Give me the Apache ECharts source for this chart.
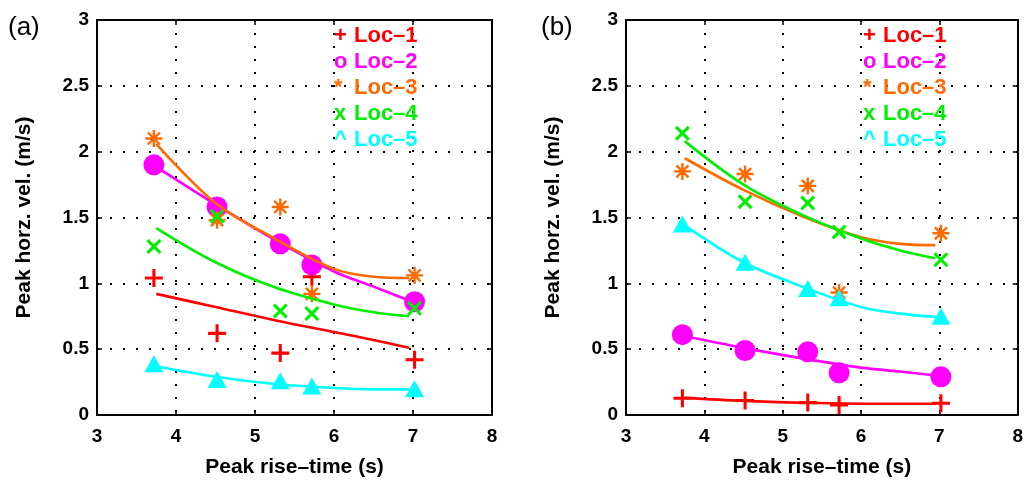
<!DOCTYPE html>
<html>
<head>
<meta charset="utf-8">
<script src="https://cdn.jsdelivr.net/npm/echarts@6/dist/echarts.min.js"></script>
<style>
html,body{margin:0;padding:0;background:#fff;}
#chart{width:1026px;height:484px;}
</style>
</head>
<body>
<div id="chart"></div>
<script>
// ---- data ----
const xRise = [3.72, 4.52, 5.32, 5.72, 7.02];
const xFit = [3.75, 4.5, 5.25, 6.0, 6.5, 6.95];
const locNames = ['Loc–1', 'Loc–2', 'Loc–3', 'Loc–4', 'Loc–5'];
const markerChars = ['+', 'o', '*', 'x', '^'];
const xTicks = [3, 4, 5, 6, 7, 8];
const yTicks = [0, 0.5, 1, 1.5, 2, 2.5, 3];
const panelLabels = ['(a)', '(b)'];
const xTitle = 'Peak rise–time (s)';
const yTitle = 'Peak horz. vel. (m/s)';

// panel (a) observed
const a_loc1 = [1.04, 0.62, 0.47, 1.05, 0.42];
const a_loc2 = [1.90, 1.58, 1.30, 1.14, 0.86];
const a_loc3 = [2.10, 1.48, 1.58, 0.92, 1.06];
const a_loc4 = [1.28, 1.51, 0.79, 0.77, 0.81];
const a_loc5 = [0.39, 0.27, 0.26, 0.22, 0.20];
// panel (a) fitted curves
const a_fit1 = [0.92, 0.82, 0.72, 0.63, 0.57, 0.51];
const a_fit2 = [1.885, 1.60, 1.33, 1.09, 0.975, 0.87];
const a_fit3 = [2.06, 1.61, 1.34, 1.11, 1.05, 1.04];
const a_fit4 = [1.42, 1.16, 0.97, 0.84, 0.78, 0.75];
const a_fit5 = [0.37, 0.29, 0.235, 0.205, 0.195, 0.195];

// panel (b) observed
const b_loc1 = [0.127, 0.11, 0.094, 0.076, 0.089];
const b_loc2 = [0.61, 0.49, 0.48, 0.32, 0.29];
const b_loc3 = [1.85, 1.83, 1.74, 0.93, 1.38];
const b_loc4 = [2.14, 1.62, 1.61, 1.39, 1.18];
const b_loc5 = [1.45, 1.16, 0.96, 0.89, 0.75];
// panel (b) fitted curves
const b_fit1 = [0.13, 0.107, 0.093, 0.086, 0.085, 0.085];
const b_fit2 = [0.60, 0.51, 0.43, 0.36, 0.33, 0.30];
const b_fit3 = [1.95, 1.71, 1.51, 1.35, 1.30, 1.29];
const b_fit4 = [2.08, 1.75, 1.52, 1.34, 1.25, 1.19];
const b_fit5 = [1.44, 1.16, 0.975, 0.82, 0.77, 0.745];

// ---- styles ----
const colors = ['#ff0000', '#ff00ff', '#ff6a00', '#00ee00', '#00ffff'];
const FONT = '"Liberation Sans", Arial, Helvetica, sans-serif';
const symPlus = 'path://M-1.7,-10L1.7,-10L1.7,10L-1.7,10Z M-10,-1.7L10,-1.7L10,1.7L-10,1.7Z';
const symX = 'path://M8.27,5.87L5.87,8.27L-8.27,-5.87L-5.87,-8.27Z M-8.27,5.87L5.87,-8.27L8.27,-5.87L-5.87,8.27Z';
const symStar = 'path://M-1.4,-10L1.4,-10L1.4,10L-1.4,10Z M-10,-1.4L10,-1.4L10,1.4L-10,1.4Z M8.06,6.08L6.08,8.06L-8.06,-6.08L-6.08,-8.06Z M-8.06,6.08L6.08,-8.06L8.06,-6.08L-6.08,8.06Z';
const symbols = [symPlus, 'circle', symStar, symX, 'triangle'];
const symSizes = [18, 21, 17, 15, [19, 17]];

const panels = [
  {obs: [a_loc1, a_loc2, a_loc3, a_loc4, a_loc5], fit: [a_fit1, a_fit2, a_fit3, a_fit4, a_fit5]},
  {obs: [b_loc1, b_loc2, b_loc3, b_loc4, b_loc5], fit: [b_fit1, b_fit2, b_fit3, b_fit4, b_fit5]}
];

const gridLefts = [97, 626];
const gridW = 395, gridTop = 20, gridH = 395;

const axisLineStyle = {color: '#000', width: 2};
const tickStyle = {show: true, inside: true, length: 5, lineStyle: {color: '#000', width: 1.5}};
const labelStyle = {color: '#000', fontSize: 19, fontWeight: 'bold', fontFamily: FONT};
const nameStyle = {color: '#000', fontSize: 21, fontWeight: 'bold', fontFamily: FONT};
const dotted = {show: true, lineStyle: {color: '#000', width: 2, type: [2, 11]}};

const grids = [], xAxes = [], yAxes = [], series = [], graphics = [];

panels.forEach((p, pi) => {
  grids.push({left: gridLefts[pi], top: gridTop, width: gridW, height: gridH, containLabel: false});
  xAxes.push({
    gridIndex: pi, type: 'value', min: xTicks[0], max: xTicks[xTicks.length - 1], interval: 1,
    position: 'bottom',
    axisLine: {show: true, onZero: false, lineStyle: axisLineStyle},
    axisTick: tickStyle,
    axisLabel: Object.assign({margin: 12}, labelStyle),
    splitLine: dotted,
    name: xTitle, nameLocation: 'middle', nameGap: 42, nameTextStyle: nameStyle
  });
  xAxes.push({
    gridIndex: pi, type: 'value', min: xTicks[0], max: xTicks[xTicks.length - 1], interval: 1,
    position: 'top',
    axisLine: {show: true, onZero: false, lineStyle: axisLineStyle},
    axisTick: tickStyle, axisLabel: {show: false}, splitLine: {show: false}
  });
  yAxes.push({
    gridIndex: pi, type: 'value', min: yTicks[0], max: yTicks[yTicks.length - 1], interval: 0.5,
    position: 'left',
    axisLine: {show: true, onZero: false, lineStyle: axisLineStyle},
    axisTick: tickStyle,
    axisLabel: Object.assign({margin: 8}, labelStyle),
    splitLine: dotted,
    name: yTitle, nameLocation: 'middle', nameGap: 62, nameRotate: 90, nameTextStyle: nameStyle
  });
  yAxes.push({
    gridIndex: pi, type: 'value', min: yTicks[0], max: yTicks[yTicks.length - 1], interval: 0.5,
    position: 'right',
    axisLine: {show: true, onZero: false, lineStyle: axisLineStyle},
    axisTick: tickStyle, axisLabel: {show: false}, splitLine: {show: false}
  });

  for (let k = 0; k < 5; k++) {
    series.push({
      type: 'scatter', name: locNames[k] + '-' + pi,
      xAxisIndex: pi * 2, yAxisIndex: pi * 2,
      data: xRise.map((x, i) => [x, p.obs[k][i]]),
      symbol: symbols[k], symbolSize: symSizes[k],
      itemStyle: {color: colors[k], opacity: 1},
      z: 3
    });
    series.push({
      type: 'line', name: locNames[k] + '-fit-' + pi,
      xAxisIndex: pi * 2, yAxisIndex: pi * 2,
      data: xFit.map((x, i) => [x, p.fit[k][i]]),
      showSymbol: false, symbol: 'none', smooth: 0.35,
      lineStyle: {color: colors[k], width: 2.6},
      z: 4
    });
  }

  // legend text: marker char + location name
  const mx = gridLefts[pi] + 237;
  const nx = gridLefts[pi] + 257;
  for (let k = 0; k < 5; k++) {
    graphics.push({
      type: 'text', x: mx, y: 36 + k * 26,
      style: {text: markerChars[k], fill: colors[k],
        font: 'bold 22px ' + FONT, textAlign: 'left', textVerticalAlign: 'middle'},
      z: 10
    });
    graphics.push({
      type: 'text', x: nx, y: 36 + k * 26,
      style: {text: locNames[k], fill: colors[k],
        font: 'bold 22px ' + FONT, textAlign: 'left', textVerticalAlign: 'middle'},
      z: 10
    });
  }
  graphics.push({
    type: 'text', x: pi === 0 ? 8 : 541, y: 28,
    style: {text: panelLabels[pi], fill: '#000', font: '26px ' + FONT,
      textAlign: 'left', textVerticalAlign: 'middle'},
    z: 10
  });
});

const chart = echarts.init(document.getElementById('chart'), null, {renderer: 'canvas'});
chart.setOption({
  backgroundColor: '#fff',
  animation: false,
  grid: grids,
  xAxis: xAxes,
  yAxis: yAxes,
  series: series,
  graphic: graphics
});
</script>
</body>
</html>
